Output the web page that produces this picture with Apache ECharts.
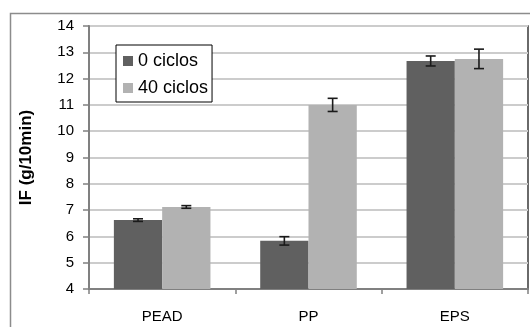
<!DOCTYPE html>
<html>
<head>
<meta charset="utf-8">
<script src="https://cdn.jsdelivr.net/npm/echarts@6/dist/echarts.min.js"></script>
<style>html,body{margin:0;padding:0;background:#fff}#c{width:530px;height:327px}</style>
</head>
<body>
<div id="c"></div>
<script>
const categories = ['PEAD', 'PP', 'EPS'];
const seriesNames = ['0 ciclos', '40 ciclos'];
const values0 = [6.62, 5.83, 12.67];
const values40 = [7.12, 11.0, 12.75];
const err0 = [0.05, 0.16, 0.19];
const err40 = [0.05, 0.25, 0.37];
const yTicks = [4, 5, 6, 7, 8, 9, 10, 11, 12, 13, 14];

const FONT = 'Liberation Sans';
const colors = ['#606060', '#b2b2b2'];
const gapPct = 34;

function errSeries(idx, vals, errs) {
  return {
    type: 'custom',
    z: 10,
    silent: true,
    data: categories.map((c, i) => [i, vals[i] - errs[i], vals[i] + errs[i]]),
    renderItem: function (params, api) {
      const band = api.size([1, 0])[0];
      const bw = band * (1 - gapPct / 100) / 2;
      const center = api.coord([api.value(0), 0])[0];
      const x = center + (idx === 0 ? -bw / 2 : bw / 2);
      const lo = api.coord([api.value(0), api.value(1)])[1];
      const hi = api.coord([api.value(0), api.value(2)])[1];
      const cap = 5;
      const st = { stroke: '#1a1a1a', lineWidth: 1.6 };
      return {
        type: 'group',
        children: [
          { type: 'line', shape: { x1: x, y1: lo, x2: x, y2: hi }, style: st },
          { type: 'line', shape: { x1: x - cap, y1: lo, x2: x + cap, y2: lo }, style: st },
          { type: 'line', shape: { x1: x - cap, y1: hi, x2: x + cap, y2: hi }, style: st }
        ]
      };
    }
  };
}

const chart = echarts.init(document.getElementById('c'), null, { renderer: 'canvas' });
chart.setOption({
  animation: false,
  textStyle: { fontFamily: FONT },
  graphic: [{
    type: 'rect', z: -10,
    shape: { x: 10.5, y: 13.5, width: 540, height: 330 },
    style: { fill: 'none', stroke: '#8c8c8c', lineWidth: 1.5 }
  }],
  grid: {
    left: 89, top: 26, right: 2, bottom: 38,
    show: true, borderColor: '#3a3a3a', borderWidth: 1.5, backgroundColor: 'transparent'
  },
  legend: {
    orient: 'vertical',
    left: 116, top: 45,
    backgroundColor: '#fff',
    borderColor: '#000', borderWidth: 1,
    padding: [6, 4, 4, 7],
    itemWidth: 10, itemHeight: 10, itemGap: 7,
    icon: 'rect',
    data: seriesNames,
    textStyle: { fontFamily: FONT, fontSize: 18, color: '#000', lineHeight: 20 }
  },
  xAxis: {
    type: 'category',
    data: categories,
    axisLine: { lineStyle: { color: '#808080', width: 2 } },
    axisTick: { show: true, alignWithLabel: false, length: 5, lineStyle: { color: '#808080', width: 1.5 } },
    axisLabel: { fontFamily: FONT, fontSize: 15, color: '#000', margin: 20 }
  },
  yAxis: {
    type: 'value',
    min: 4, max: 14, interval: 1,
    name: 'IF (g/10min)',
    nameLocation: 'middle',
    nameGap: 54,
    nameTextStyle: { fontFamily: FONT, fontSize: 17, fontWeight: 'bold', color: '#000' },
    axisLine: { show: true, lineStyle: { color: '#808080', width: 2 } },
    axisTick: { show: true, length: 6, lineStyle: { color: '#808080', width: 1.5 } },
    axisLabel: {
      fontFamily: FONT, fontSize: 15, color: '#000', margin: 15,
      formatter: v => (yTicks.indexOf(v) >= 0 ? String(v) : '')
    },
    splitLine: { lineStyle: { color: '#cccccc', width: 2 } }
  },
  series: [
    {
      name: seriesNames[0], type: 'bar', data: values0,
      barGap: '0%', barCategoryGap: gapPct + '%',
      itemStyle: { color: colors[0] }
    },
    {
      name: seriesNames[1], type: 'bar', data: values40,
      barGap: '0%', barCategoryGap: gapPct + '%',
      itemStyle: { color: colors[1] }
    },
    errSeries(0, values0, err0),
    errSeries(1, values40, err40)
  ]
});
</script>
</body>
</html>
